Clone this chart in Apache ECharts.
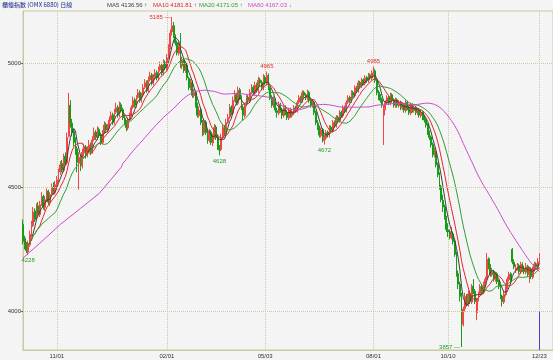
<!DOCTYPE html>
<html><head><meta charset="utf-8">
<script src="https://cdn.jsdelivr.net/npm/echarts@6/dist/echarts.min.js"></script>
<style>html,body{margin:0;padding:0;background:#f4f4f4}#c{width:553px;height:360px}</style>
</head><body><div id="c"></div><script>
// ---- data ----
const opens=[
4350,4295,4270,4240,4268,4305,4345,4405,4372,4425,
4390,4432,4462,4418,4448,4485,4438,4472,4505,4478,
4512,4528,4562,4595,4568,4625,4598,4705,4830,4758,
4725,4682,4655,4598,4618,4585,4638,4662,4628,4648,
4672,4640,4692,4722,4698,4732,4712,4680,4722,4752,
4728,4742,4772,4792,4760,4802,4822,4790,4832,4812,
4778,4760,4738,4772,4792,4822,4852,4828,4862,4882,
4848,4872,4902,4922,4888,4932,4952,4918,4942,4962,
4938,4972,4992,4958,5002,4978,5022,5062,5125,5150,
5108,5082,5038,5110,4988,5012,4968,4992,4938,4898,
4922,4868,4882,4832,4788,4812,4758,4718,4762,4722,
4688,4722,4678,4702,4742,4702,4662,4652,4702,4742,
4718,4762,4782,4822,4798,4852,4872,4838,4892,4862,
4822,4788,4832,4862,4848,4882,4902,4878,4912,4888,
4932,4922,4898,4942,4918,4952,4898,4862,4828,4852,
4808,4798,4832,4812,4788,4822,4802,4778,4812,4788,
4798,4822,4808,4842,4862,4848,4882,4872,4858,4882,
4852,4828,4842,4802,4758,4742,4708,4732,4688,4698,
4722,4708,4742,4728,4762,4748,4782,4768,4802,4788,
4822,4808,4842,4862,4848,4882,4868,4902,4888,4922,
4908,4932,4918,4942,4928,4952,4938,4958,4968,4932,
4882,4862,4852,4790,4818,4842,4862,4838,4872,4852,
4828,4852,4828,4842,4818,4832,4808,4842,4822,4798,
4832,4808,4822,4798,4812,4788,4802,4782,4772,4752,
4722,4702,4672,4628,4642,4592,4552,4502,4448,4422,
4378,4328,4322,4298,4312,4282,4232,4152,4110,4060,
3948,4012,4062,4028,4072,4038,4102,4082,3995,4048,
4072,4102,4078,4112,4132,4212,4182,4148,4162,4128,
4152,4122,4102,4062,4038,4068,4098,4128,4152,4250,
4198,4165,4175,4185,4158,4192,4168,4158,4182,4148,
4172,4138,4168,4192,4178,4198];
const highs=[
4370,4305,4280,4285,4325,4365,4420,4415,4435,4440,
4445,4480,4470,4465,4495,4490,4480,4515,4520,4525,
4545,4575,4605,4610,4635,4640,4720,4880,4850,4775,
4735,4700,4665,4640,4630,4655,4675,4670,4665,4690,
4680,4705,4740,4730,4745,4740,4720,4730,4765,4760,
4755,4785,4805,4800,4815,4840,4830,4845,4840,4820,
4790,4770,4780,4800,4830,4865,4860,4870,4895,4890,
4880,4915,4935,4930,4945,4965,4960,4955,4975,4970,
4985,5005,5000,5015,5010,5035,5075,5135,5185,5165,
5115,5090,5085,5120,5025,5020,5000,5000,4945,4935,
4930,4895,4890,4840,4825,4820,4770,4775,4770,4730,
4735,4730,4715,4755,4750,4710,4670,4715,4755,4750,
4775,4795,4835,4830,4865,4890,4880,4905,4900,4870,
4830,4840,4870,4870,4895,4915,4910,4925,4920,4945,
4940,4930,4955,4950,4965,4958,4905,4870,4865,4858,
4820,4845,4840,4820,4830,4830,4810,4820,4820,4810,
4830,4828,4850,4870,4868,4890,4888,4878,4892,4888,
4858,4850,4848,4808,4770,4748,4740,4738,4710,4730,
4728,4750,4748,4770,4768,4790,4788,4810,4808,4830,
4828,4850,4870,4868,4890,4888,4910,4908,4930,4928,
4940,4938,4950,4948,4960,4958,4970,4985,4975,4938,
4890,4875,4860,4830,4850,4870,4868,4880,4878,4858,
4860,4858,4850,4848,4840,4838,4850,4848,4828,4840,
4838,4830,4828,4820,4818,4810,4808,4790,4778,4758,
4728,4708,4680,4660,4648,4600,4560,4510,4470,4430,
4385,4355,4330,4340,4320,4290,4240,4165,4120,4075,
4020,4075,4070,4085,4080,4110,4130,4090,4055,4080,
4110,4108,4120,4140,4235,4218,4190,4175,4168,4160,
4158,4128,4108,4068,4080,4110,4140,4160,4158,4255,
4210,4190,4195,4192,4200,4198,4185,4195,4188,4180,
4178,4180,4200,4198,4215,4235];
const lows=[
4270,4250,4235,4228,4260,4300,4340,4360,4365,4385,
4380,4425,4410,4405,4440,4430,4425,4465,4470,4470,
4500,4520,4550,4560,4560,4590,4590,4700,4740,4705,
4665,4630,4560,4490,4565,4575,4625,4615,4620,4640,
4630,4635,4685,4690,4690,4700,4670,4672,4715,4720,
4720,4735,4765,4750,4752,4795,4780,4782,4800,4770,
4750,4725,4730,4765,4785,4815,4820,4820,4855,4840,
4840,4865,4895,4880,4880,4925,4910,4910,4935,4930,
4930,4965,4950,4950,4970,4970,5015,5055,5110,5100,
5070,5030,5030,4980,4975,4960,4960,4930,4890,4890,
4860,4860,4820,4780,4780,4750,4705,4710,4710,4675,
4680,4670,4665,4695,4690,4650,4628,4645,4695,4705,
4710,4755,4775,4790,4790,4845,4830,4830,4850,4810,
4770,4780,4825,4835,4840,4875,4870,4870,4880,4880,
4905,4890,4890,4910,4910,4890,4850,4820,4820,4800,
4780,4790,4800,4775,4780,4790,4770,4770,4780,4780,
4790,4800,4800,4835,4840,4840,4860,4850,4850,4840,
4820,4820,4790,4750,4730,4700,4700,4680,4672,4690,
4700,4700,4720,4720,4740,4740,4760,4760,4780,4780,
4800,4800,4835,4840,4840,4860,4860,4880,4880,4900,
4900,4910,4910,4920,4920,4930,4930,4950,4920,4870,
4850,4840,4820,4670,4810,4835,4830,4830,4840,4820,
4820,4820,4820,4810,4810,4800,4800,4810,4790,4790,
4800,4800,4790,4790,4780,4780,4770,4760,4740,4710,
4690,4660,4620,4620,4580,4540,4490,4440,4400,4370,
4320,4300,4290,4290,4270,4220,4140,4090,4040,3857,
3940,4000,4020,4020,4030,4030,4070,4030,3965,4040,
4065,4070,4070,4105,4125,4170,4140,4140,4120,4120,
4110,4090,4050,4020,4030,4060,4090,4120,4110,4190,
4170,4155,4165,4150,4150,4160,4150,4150,4140,4115,
4130,4130,4160,4170,4170,4190];
const closes=[
4290,4265,4245,4270,4310,4350,4400,4370,4420,4395,
4430,4460,4420,4450,4480,4440,4470,4500,4480,4510,
4530,4560,4590,4570,4620,4600,4700,4820,4760,4720,
4680,4650,4600,4620,4580,4640,4660,4630,4650,4670,
4640,4690,4720,4700,4730,4710,4680,4720,4750,4730,
4740,4770,4790,4760,4800,4820,4790,4830,4810,4780,
4760,4740,4770,4790,4820,4850,4830,4860,4880,4850,
4870,4900,4920,4890,4930,4950,4920,4940,4960,4940,
4970,4990,4960,5000,4980,5020,5060,5120,5150,5110,
5080,5040,5060,4990,5010,4970,4990,4940,4900,4920,
4870,4880,4830,4790,4810,4760,4720,4760,4720,4690,
4720,4680,4700,4740,4700,4660,4650,4700,4740,4720,
4760,4780,4820,4800,4850,4870,4840,4890,4860,4820,
4790,4830,4860,4850,4880,4900,4880,4910,4890,4930,
4920,4900,4940,4920,4950,4900,4860,4830,4850,4810,
4800,4830,4810,4790,4820,4800,4780,4810,4790,4800,
4820,4810,4840,4860,4850,4880,4870,4860,4880,4850,
4830,4840,4800,4760,4740,4710,4730,4690,4700,4720,
4710,4740,4730,4760,4750,4780,4770,4800,4790,4820,
4810,4840,4860,4850,4880,4870,4900,4890,4920,4910,
4930,4920,4940,4930,4950,4940,4960,4970,4930,4880,
4860,4850,4830,4815,4840,4860,4840,4870,4850,4830,
4850,4830,4840,4820,4830,4810,4840,4820,4800,4830,
4810,4820,4800,4810,4790,4800,4780,4770,4750,4720,
4700,4670,4630,4640,4590,4550,4500,4450,4420,4380,
4330,4320,4300,4310,4280,4230,4150,4110,4060,3950,
4010,4060,4030,4070,4040,4100,4080,4040,4050,4070,
4100,4080,4110,4130,4210,4180,4150,4160,4130,4150,
4120,4100,4060,4040,4070,4100,4130,4150,4120,4200,
4180,4175,4185,4160,4190,4170,4160,4180,4150,4170,
4140,4170,4190,4180,4200,4220];
const tickIndex=[20,85,143,207,251,305];
const tickLabels=['11/01','02/01','05/03','08/01','10/10','12/23'];
const yTicks=[4000,4500,5000];
const padCount=8;
const ma60LeadIdx=[0,10,22,34,45,58];
const ma60LeadVal=[4215,4275,4350,4415,4475,4580];
const annIdx=[88,3,116,144,178,207,259];
const annVal=[5185,4228,4628,4965,4672,4985,3857];
const annKind=['high','low','low','high','low','high','low'];
const annPos=['left','bottom','bottom','top','bottom','top','left'];
const legendNames=['MA5','MA10','MA20','MA60'];
const legendVals=['4136.56','4181.81','4171.05','4167.03'];
const legendArrows=['↑','↑','↑','↓'];
const titleText='櫃檯指數 (OMX 6880) 日線';

// ---- build ----
const colors=['#404040','#e02828','#2f9f2f','#d048d0'];
const legendX=[107,153,199,248];
const n=closes.length;
const cats=[];for(let i=0;i<n+padCount;i++)cats.push(String(i));
const kdata=closes.map((c,i)=>[opens[i],c,lows[i],highs[i]]);
function sma(p){return closes.map((c,i)=>{const s=Math.max(0,i-p+1);let t=0;for(let k=s;k<=i;k++)t+=closes[k];return +(t/(i-s+1)).toFixed(2);});}
const ma5=sma(5),ma10=sma(10),ma20=sma(20);
const full60=sma(60);
const ma60=closes.map((c,i)=>{if(i>=59)return full60[i];const k=ma60LeadIdx.indexOf(i);return k>=0?ma60LeadVal[k]:null;});
const isTick=(i)=>tickIndex.indexOf(i)>=0;
const font='Liberation Sans';
const gridCol='#c9c9a2';
const fs=6;

const chart=echarts.init(document.getElementById('c'),null,{renderer:'canvas'});
const lineSeries=[ma5,ma10,ma20,ma60].map((d,k)=>({type:'line',data:d,showSymbol:false,symbol:'none',connectNulls:true,
  lineStyle:{width:1,color:colors[k]},itemStyle:{color:colors[k]},z:3,silent:true}));
chart.setOption({
  animation:false,
  backgroundColor:'#f4f4f4',
  textStyle:{fontFamily:font},
  grid:{left:23,right:0,top:11,bottom:10,show:true,borderColor:gridCol,borderWidth:1,backgroundColor:'transparent'},
  graphic:[
    {type:'text',left:2,top:2,style:{text:titleText,fill:'#1c2a8c',font:'6px "Noto Sans CJK TC"'}},
    ...legendNames.map((nm,k)=>({type:'text',left:legendX[k],top:2,style:{text:nm+' '+legendVals[k]+' '+legendArrows[k],fill:colors[k],font:'6px "Liberation Sans"'}}))
  ],
  xAxis:{type:'category',data:cats,boundaryGap:false,
    axisLine:{show:true,lineStyle:{color:gridCol}},axisTick:{show:false},
    axisLabel:{interval:(i)=>isTick(i),formatter:(v,i)=>{const k=tickIndex.indexOf(i);return k>=0?tickLabels[k]:'';},fontSize:fs,color:'#333',margin:3,fontFamily:font},
    splitLine:{show:true,interval:(i)=>isTick(i),lineStyle:{color:gridCol,type:'dotted',width:1}}},
  yAxis:{type:'value',min:3845,max:5209,
    axisLine:{show:true,lineStyle:{color:gridCol}},
    axisTick:{show:true,length:2,customValues:yTicks,lineStyle:{color:'#666'}},
    axisLabel:{customValues:yTicks,formatter:(v)=>String(v),fontSize:fs,color:'#333',margin:2,fontFamily:font},
    splitLine:{show:false}},
  series:[
    {type:'candlestick',data:kdata,barWidth:'80%',z:2,silent:true,
     itemStyle:{color:'#f04646',color0:'#169c16',borderColor:'#f04646',borderColor0:'#169c16',borderWidth:1},
     markLine:{silent:true,symbol:['none','none'],label:{show:false},animation:false,
       data:[...yTicks.map(v=>({yAxis:v,lineStyle:{color:gridCol,type:'dotted',width:1}})),
             [{coord:[String(n-1),4000],lineStyle:{color:'#4444cc',type:'solid',width:1}},{coord:[String(n-1),3845]}]]},
     markPoint:{silent:true,animation:false,
       data:annIdx.map((idx,k)=>({coord:[String(idx),annVal[k]],value:annVal[k],symbol:'rect',symbolSize:1,
         itemStyle:{color:'rgba(0,0,0,0)'},
         label:{show:true,position:annPos[k],distance:annPos[k]==='left'?1:2,fontSize:fs,fontFamily:font,
           color:annKind[k]==='high'?'#e03030':'#22a022',
           formatter:annPos[k]==='left'?(annVal[k]+' —'):String(annVal[k])}}))}
    },
    ...lineSeries
  ]
});
</script></body></html>
